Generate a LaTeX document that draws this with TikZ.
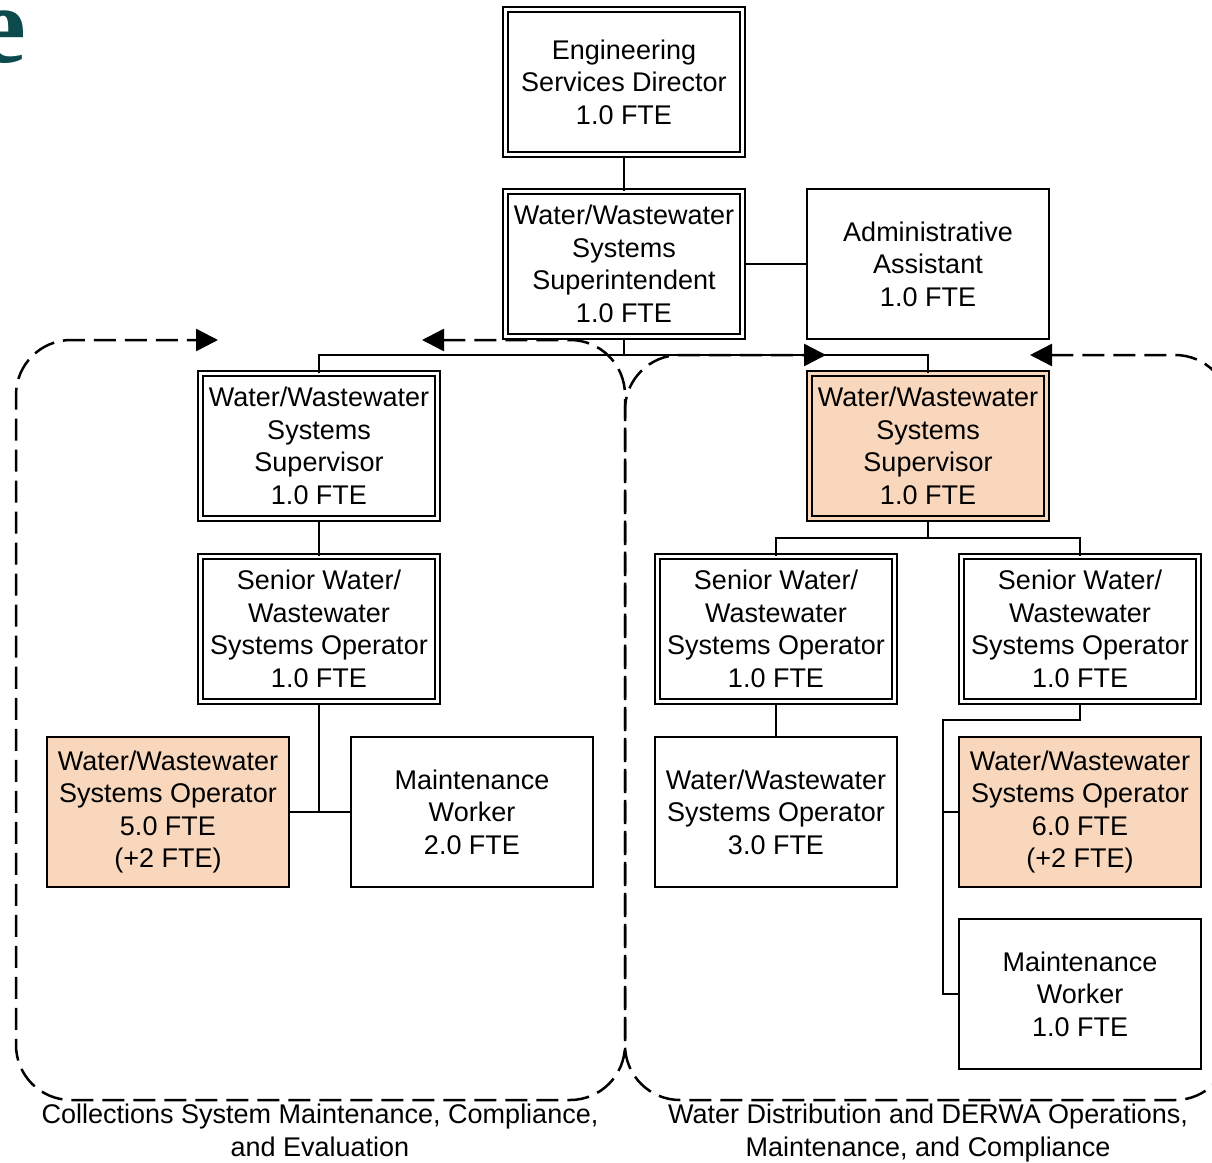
\documentclass[tikz,border=0pt]{standalone}
\usepackage{fontspec}
\setmainfont{Liberation Sans}
\newfontfamily\headfont{Liberation Serif}
\usepackage{tikz}
\usetikzlibrary{arrows.meta}
\usepackage{xcolor}
\definecolor{peach}{HTML}{F9D7BC}
\definecolor{headteal}{HTML}{0C4A4E}

\tikzset{
	post/.style={draw, line width=2pt, double, double distance=3pt, minimum width=237pt, minimum height=145pt, inner sep=0pt, align=center, fill=white},
	hot/.style={fill=peach, double=peach},
	plain/.style={draw, line width=2pt, minimum width=242pt, minimum height=150pt, inner sep=0pt, align=center, fill=white},
	link/.style={line width=2pt},
	team/.style={line width=2.5pt, dash pattern=on 22pt off 9pt, rounded corners=55pt, {Triangle[length=22pt,width=22pt]}-{Triangle[length=22pt,width=22pt]}},
	caption/.style={align=center, inner sep=0pt, anchor=north}
}

\begin{document}
\begin{tikzpicture}[x=1pt, y=-1pt, font=\fontsize{27pt}{32.5pt}\selectfont]
	\useasboundingbox (0,0) rectangle (1212,1162);
	\clip (0,0) rectangle (1212,1162);
	\node[font=\fontsize{110pt}{110pt}\headfont\bfseries\selectfont, text=headteal, anchor=base east, inner sep=0pt] (head) at (27,62) {e};

	\draw[team] (422,340) -- (625,340) -- (625,1100) -- (16,1100) -- (16,340) -- (218,340);
	\draw[team] (1030,355) -- (1230,355) -- (1230,1100) -- (625,1100) -- (625,355) -- (826,355);

	\node[post] (dir) at (624,82) {Engineering\\Services Director\\1.0 FTE};
	\node[post] (supt) at (624,264) {Water/Wastewater\\Systems\\Superintendent\\1.0 FTE};
	\node[plain] (admin) at (928,264) {Administrative\\Assistant\\1.0 FTE};
	\node[post] (supL) at (319,446) {Water/Wastewater\\Systems\\Supervisor\\1.0 FTE};
	\node[post, hot] (supR) at (928,446) {Water/Wastewater\\Systems\\Supervisor\\1.0 FTE};
	\node[post] (senL) at (319,629) {Senior Water/\\Wastewater\\Systems Operator\\1.0 FTE};
	\node[post] (senRa) at (776,629) {Senior Water/\\Wastewater\\Systems Operator\\1.0 FTE};
	\node[post] (senRb) at (1080,629) {Senior Water/\\Wastewater\\Systems Operator\\1.0 FTE};
	\node[plain, fill=peach] (opL) at (168,812) {Water/Wastewater\\Systems Operator\\5.0 FTE\\(+2 FTE)};
	\node[plain] (mwL) at (472,812) {Maintenance\\Worker\\2.0 FTE};
	\node[plain] (opRa) at (776,812) {Water/Wastewater\\Systems Operator\\3.0 FTE};
	\node[plain, fill=peach] (opRb) at (1080,812) {Water/Wastewater\\Systems Operator\\6.0 FTE\\(+2 FTE)};
	\node[plain] (mwR) at (1080,994) {Maintenance\\Worker\\1.0 FTE};

	\coordinate (busT) at (624,355);
	\coordinate (busR) at (928,538);
	\coordinate (jL) at (319,812);
	\coordinate (spine) at (943,720);

	\draw[link] (dir) -- (supt);
	\draw[link] (supt) -- (admin);
	\draw[link] (supt) -- (busT);
	\draw[link] (supL.north) |- (busT) -| (supR.north);
	\draw[link] (supL) -- (senL);
	\draw[link] (senL) -- (jL);
	\draw[link] (opL.east) -- (mwL.west);
	\draw[link] (supR) -- (busR);
	\draw[link] (senRa.north) |- (busR) -| (senRb.north);
	\draw[link] (senRa) -- (opRa);
	\draw[link] (senRb.south) |- (spine) |- (mwR.west);
	\draw[link] (opRb.west) -- (opRb.west -| spine);

	\node[caption] (capL) at (320,1104) {Collections System Maintenance, Compliance,\\and Evaluation};
	\node[caption] (capR) at (928,1104) {Water Distribution and DERWA Operations,\\Maintenance, and Compliance};
\end{tikzpicture}
\end{document}
